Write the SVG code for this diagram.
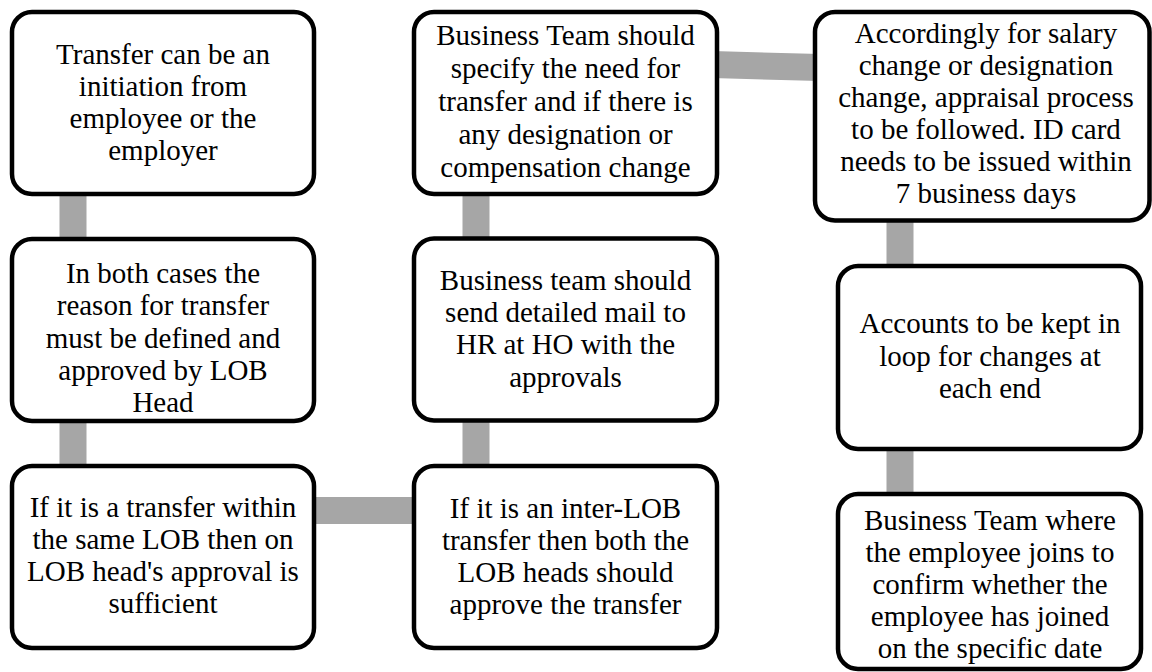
<svg xmlns="http://www.w3.org/2000/svg" width="1152" height="672" viewBox="0 0 1152 672">
<style>
.box{fill:#fff;stroke:#000;stroke-width:4.5}
.con{stroke:#A6A6A6;stroke-width:27;fill:none}
.t{font-family:'Liberation Serif','DejaVu Serif',serif;font-size:29px;fill:#000;text-anchor:middle}
</style>
<rect width="1152" height="672" fill="#fff"/>
<g id="connectors">
<line class="con" x1="73" y1="190" x2="73" y2="242"/>
<line class="con" x1="73" y1="418" x2="73" y2="470"/>
<line class="con" x1="310" y1="510.5" x2="418" y2="510.5"/>
<line class="con" x1="476" y1="418" x2="476" y2="470"/>
<line class="con" x1="476" y1="190" x2="476" y2="242"/>
<line class="con" x1="712" y1="64.5" x2="820" y2="67.5"/>
<line class="con" x1="900" y1="216" x2="900" y2="270"/>
<line class="con" x1="900" y1="445" x2="900" y2="498"/>
</g>
<g id="n1">
<rect class="box" x="12" y="12" width="302" height="182" rx="20"/>
<text class="t" font-family="Liberation Serif, DejaVu Serif, serif"><tspan x="163" y="63.5">Transfer can be an</tspan><tspan x="163" y="95.7">initiation from</tspan><tspan x="163" y="127.9">employee or the</tspan><tspan x="163" y="160.1">employer</tspan></text>
</g>
<g id="n2">
<rect class="box" x="12" y="239" width="302" height="182" rx="20"/>
<text class="t" font-family="Liberation Serif, DejaVu Serif, serif"><tspan x="163" y="283.3">In both cases the</tspan><tspan x="163" y="315.4">reason for transfer</tspan><tspan x="163" y="347.5">must be defined and</tspan><tspan x="163" y="379.6">approved by LOB</tspan><tspan x="163" y="411.7">Head</tspan></text>
</g>
<g id="n3">
<rect class="box" x="12" y="466" width="302" height="182" rx="20"/>
<text class="t" font-family="Liberation Serif, DejaVu Serif, serif"><tspan x="163" y="516.7">If it is a transfer within</tspan><tspan x="163" y="548.9">the same LOB then on</tspan><tspan x="163" y="581.1">LOB head's approval is</tspan><tspan x="163" y="613.3">sufficient</tspan></text>
</g>
<g id="n4">
<rect class="box" x="414" y="12" width="303" height="182" rx="20"/>
<text class="t" font-family="Liberation Serif, DejaVu Serif, serif"><tspan x="565.5" y="45">Business Team should</tspan><tspan x="565.5" y="77.9">specify the need for</tspan><tspan x="565.5" y="110.8">transfer and if there is</tspan><tspan x="565.5" y="143.7">any designation or</tspan><tspan x="565.5" y="176.6">compensation change</tspan></text>
</g>
<g id="n5">
<rect class="box" x="414" y="238.5" width="303" height="182" rx="20"/>
<text class="t" font-family="Liberation Serif, DejaVu Serif, serif"><tspan x="565.5" y="290">Business team should</tspan><tspan x="565.5" y="322.2">send detailed mail to</tspan><tspan x="565.5" y="354.4">HR at HO with the</tspan><tspan x="565.5" y="386.6">approvals</tspan></text>
</g>
<g id="n6">
<rect class="box" x="414" y="466" width="303" height="182" rx="20"/>
<text class="t" font-family="Liberation Serif, DejaVu Serif, serif"><tspan x="565.5" y="517.7">If it is an inter-LOB</tspan><tspan x="565.5" y="549.8">transfer then both the</tspan><tspan x="565.5" y="581.9">LOB heads should</tspan><tspan x="565.5" y="614">approve the transfer</tspan></text>
</g>
<g id="n7">
<rect class="box" x="815" y="12" width="334.5" height="208.5" rx="20"/>
<text class="t" font-family="Liberation Serif, DejaVu Serif, serif"><tspan x="986" y="43.3">Accordingly for salary</tspan><tspan x="986" y="75.2">change or designation</tspan><tspan x="986" y="107.1">change, appraisal process</tspan><tspan x="986" y="139">to be followed. ID card</tspan><tspan x="986" y="170.9">needs to be issued within</tspan><tspan x="986" y="202.8">7 business days</tspan></text>
</g>
<g id="n8">
<rect class="box" x="838" y="266" width="303" height="183" rx="20"/>
<text class="t" font-family="Liberation Serif, DejaVu Serif, serif"><tspan x="990" y="333.3">Accounts to be kept in</tspan><tspan x="990" y="365.5">loop for changes at</tspan><tspan x="990" y="397.7">each end</tspan></text>
</g>
<g id="n9">
<rect class="box" x="838" y="494" width="303" height="175" rx="20"/>
<text class="t" font-family="Liberation Serif, DejaVu Serif, serif"><tspan x="990" y="530">Business Team where</tspan><tspan x="990" y="562.1">the employee joins to</tspan><tspan x="990" y="594.2">confirm whether the</tspan><tspan x="990" y="626.3">employee has joined</tspan><tspan x="990" y="658.4">on the specific date</tspan></text>
</g>
</svg>
